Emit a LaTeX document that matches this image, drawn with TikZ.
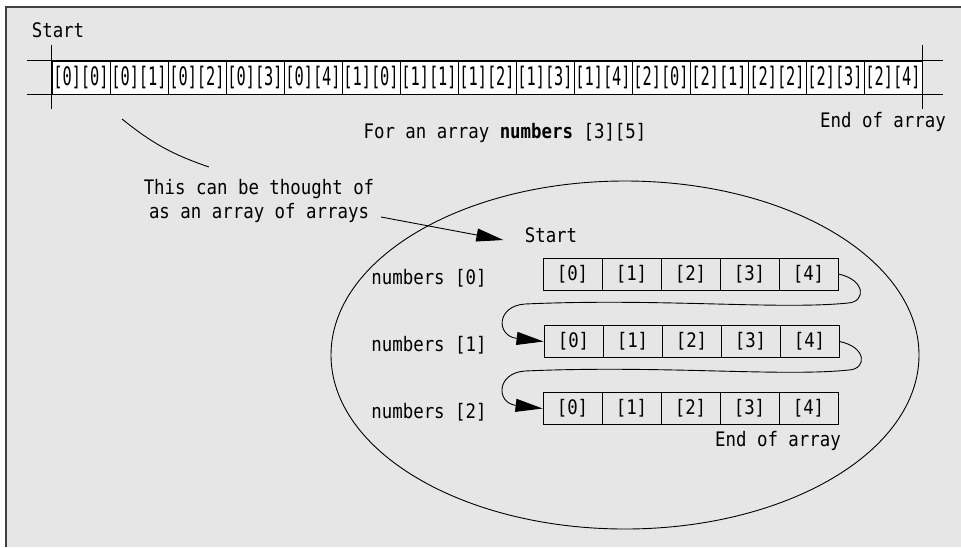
\documentclass[tikz,border=0pt]{standalone}
\usepackage{fontspec}
\usepackage{xcolor}
\usetikzlibrary{arrows.meta}
\newfontfamily\monofont[FakeStretch=0.87]{DejaVu Sans Mono}
\newfontfamily\cellfont[FakeStretch=0.6]{DejaVu Sans Mono}
\definecolor{panel}{HTML}{E6E6E6}

\begin{document}
\begin{tikzpicture}[x=1pt,y=-1pt,line width=0.9pt]
      \useasboundingbox (0,0) rectangle (961,547);
      \tikzset{T/.style = {font=\monofont\fontsize{20}{24}\selectfont, inner sep=0pt}}
      \tikzset{A/.style = {draw, fill=white, minimum width=58pt, minimum height=33pt, inner sep=0pt, font=\cellfont\fontsize{25.5}{27}\selectfont}}
      \tikzset{C/.style = {T, draw, fill=panel, minimum width=59pt, minimum height=32pt}}
      \tikzset{E/.style = {draw, -{Triangle[length=27pt,width=13pt]}}}
      % panel
      \fill[panel] (6,7) rectangle (961,547);
      \draw[line width=1.6pt, black!75] (6,547) -- (6,7) -- (961,7);
      % one long array
      \node[T](s0) at (58,30) {Start};
      \node[A](a00) at (81,77.5) {[0][0]};
      \node[A](a01) at (139,77.5) {[0][1]};
      \node[A](a02) at (197,77.5) {[0][2]};
      \node[A](a03) at (255,77.5) {[0][3]};
      \node[A](a04) at (313,77.5) {[0][4]};
      \node[A](a10) at (371,77.5) {[1][0]};
      \node[A](a11) at (429,77.5) {[1][1]};
      \node[A](a12) at (487,77.5) {[1][2]};
      \node[A](a13) at (545,77.5) {[1][3]};
      \node[A](a14) at (603,77.5) {[1][4]};
      \node[A](a20) at (661,77.5) {[2][0]};
      \node[A](a21) at (719,77.5) {[2][1]};
      \node[A](a22) at (777,77.5) {[2][2]};
      \node[A](a23) at (835,77.5) {[2][3]};
      \node[A](a24) at (893,77.5) {[2][4]};
      \draw ([xshift=-25pt]a00.north west) -- ([xshift=21pt]a24.north east);
      \draw ([xshift=-25pt]a00.south west) -- ([xshift=21pt]a24.south east);
      \draw ([yshift=16pt]a00.north west) -- ([yshift=-15pt]a00.south west);
      \draw ([yshift=16pt]a24.north east) -- ([yshift=-15pt]a24.south east);
      \node[T](e0) at (883,122) {End of array};
      \node[T](f0) at (505,133) {For an array \textbf{numbers} [3][5]};
      % array of arrays
      \node[T,align=center](th) at (259,201) {This can be thought of\\as an array of arrays};
      \coordinate (c0) at (122,119);
      \coordinate (c1) at (209,167);
      \draw (c0) to[bend right=10] (c1);
      \draw (625,355) ellipse [x radius=294pt, y radius=174pt];
      \node[T](s1) at (551,235) {Start};
      \coordinate (t0) at (381,217);
      \draw[E] (t0) -- ([xshift=-21pt,yshift=-5pt]s1.west);
      \node[T](n0) at (429,278) {numbers [0]};
      \node[T](n1) at (429,345) {numbers [1]};
      \node[T](n2) at (429,412) {numbers [2]};
      \node[C](r00) at (572.5,274) {[0]};
      \node[C](r01) at (631.5,274) {[1]};
      \node[C](r02) at (690.5,274) {[2]};
      \node[C](r03) at (749.5,274) {[3]};
      \node[C](r04) at (808.5,274) {[4]};
      \node[C](r10) at (573.5,341.5) {[0]};
      \node[C](r11) at (632.5,341.5) {[1]};
      \node[C](r12) at (691.5,341.5) {[2]};
      \node[C](r13) at (750.5,341.5) {[3]};
      \node[C](r14) at (809.5,341.5) {[4]};
      \node[C](r20) at (572.5,408.5) {[0]};
      \node[C](r21) at (631.5,408.5) {[1]};
      \node[C](r22) at (690.5,408.5) {[2]};
      \node[C](r23) at (749.5,408.5) {[3]};
      \node[C](r24) at (808.5,408.5) {[4]};
      \node[T](e1) at (778,441) {End of array};
      \draw[E] (r04.east) .. controls (866,280) and (866,302) .. (848,303)
        .. controls (780,310) and (660,298) .. (525,304)
        .. controls (496,306) and (496,336) .. (r10.west);
      \draw[E] (r14.east) .. controls (867,347) and (867,369) .. (849,370)
        .. controls (781,377) and (661,365) .. (525,371)
        .. controls (496,373) and (496,403) .. (r20.west);
\end{tikzpicture}
\end{document}
